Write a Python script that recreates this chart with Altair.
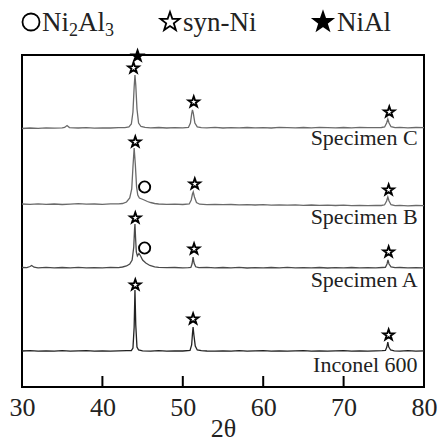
import altair as alt
import pandas as pd

# ---------------- data ----------------
specimens = ["Specimen C", "Specimen B", "Specimen A", "Inconel 600"]

c_x = [30, 31, 32, 33, 34, 35, 35.3, 35.6, 35.9, 37, 38, 39, 40, 41, 42, 42.8, 43.3, 43.6, 43.8, 43.95,
       44.05, 44.15, 44.3, 44.5, 44.8, 45.3, 46, 47, 48, 49, 50, 50.7, 50.95, 51.1, 51.2, 51.3, 51.5,
       51.8, 52.3, 53, 54, 55, 56, 57, 58, 59, 60, 61, 62, 63, 64, 65, 66, 67, 68, 69, 70, 71, 72, 73,
       74, 74.7, 75.1, 75.35, 75.5, 75.65, 75.9, 76.4, 77, 78, 79, 80]
c_y = [258.5, 259, 258.6, 259.2, 258.8, 259.1, 259.6, 261.5, 259.4, 259, 259.3, 258.8, 259.2, 259, 259.4,
       259.3, 260, 263, 275, 300, 312, 302, 278, 264, 260.5, 259.6, 259.2, 259.5, 259, 259.3, 259.1,
       259.6, 264, 273, 277, 274, 264, 260.2, 259.4, 259.2, 259.6, 259, 259.4, 259.1, 259.5, 259.2,
       259.4, 259, 259.6, 259.3, 259.1, 259.5, 259.2, 259.6, 259.3, 259.1, 259.5, 259.2, 259.6, 259.3,
       259.4, 259.5, 260, 264, 268, 264, 260.3, 259.4, 259.6, 259.2, 259.5, 259.3]

b_x = [30, 31, 32, 33, 34, 35, 36, 37, 38, 39, 40, 41, 42, 42.5, 43.0, 43.4, 43.65, 43.8, 43.95, 44.1,
       44.25, 44.4, 44.6, 44.9, 45.2, 45.6, 46, 46.5, 47, 48, 49, 50, 50.8, 51.05, 51.2, 51.3, 51.45,
       51.7, 52.1, 53, 54, 55, 56, 57, 58, 59, 60, 61, 62, 63, 64, 65, 66, 67, 68, 69, 70, 71, 72, 73,
       74, 74.7, 75.1, 75.35, 75.5, 75.65, 75.9, 76.4, 77, 78, 79, 80]
b_y = [183, 182.6, 183.1, 182.7, 183, 182.5, 182.9, 183.3, 182.8, 183, 182.6, 183.1, 183.2, 183.5,
       185, 189, 198, 220, 239, 222, 200, 192, 189, 188, 187, 185.5, 184.5, 183.5, 183, 182.6, 182.9,
       182.5, 183, 187, 193, 195, 190, 184.5, 182.8, 182.4, 182.7, 182.3, 182.5, 182.1, 182.4, 182,
       182.3, 181.9, 182.2, 181.8, 182.1, 181.7, 182, 181.6, 181.9, 181.5, 181.8, 181.4, 181.7, 181.3,
       181.6, 181.5, 182.2, 186, 190, 186, 182.3, 181.4, 181.6, 181.2, 181.5, 181.3]

a_x = [30, 30.6, 31.0, 31.2, 31.5, 32, 33, 34, 35, 36, 37, 38, 39, 40, 41, 42, 42.5, 43.0, 43.4, 43.7,
       43.9, 44.0, 44.05, 44.12, 44.22, 44.35, 44.55, 44.75, 45.0, 45.4, 45.9, 46.5, 47, 48, 49, 50,
       50.7, 51.0, 51.15, 51.28, 51.4, 51.6, 52, 53, 54, 55, 56, 57, 58, 59, 60, 61, 62, 63, 64, 65, 66,
       67, 68, 69, 70, 71, 72, 73, 74, 74.8, 75.2, 75.4, 75.52, 75.65, 75.9, 76.4, 77, 78, 79, 80]
a_y = [119.5, 119.3, 120.5, 121.5, 119.8, 119.2, 119.6, 119.1, 119.5, 119.2, 119.6, 119.1, 119.4, 119.2,
       119.6, 119.4, 120, 121, 123, 127, 140, 158, 163, 150, 135, 131, 133.5, 131, 127, 124, 121.5,
       120.2, 119.6, 119.3, 119.5, 119.1, 119.4, 119.6, 123, 130, 124, 120.2, 119.3, 119.6, 119.1,
       119.5, 119.2, 119.6, 119, 119.4, 119.1, 119.5, 119.2, 119.6, 119.1, 119.4, 119.2, 119.5, 119,
       119.4, 119.1, 119.5, 119.2, 119.4, 119.1, 119.5, 119.7, 123, 127, 123, 120.1, 119.3, 119.5,
       119.1, 119.4, 119.2]

i_x = [30, 31, 32, 33, 34, 35, 36, 37, 38, 39, 40, 41, 42, 43, 43.6, 43.8, 43.95, 44.05, 44.15, 44.3,
       44.5, 45, 46, 47, 48, 49, 50, 50.9, 51.1, 51.2, 51.28, 51.38, 51.55, 51.8, 52.3, 53, 54, 55, 56,
       57, 58, 59, 60, 61, 62, 63, 64, 65, 66, 67, 68, 69, 70, 71, 72, 73, 74, 74.8, 75.2, 75.38, 75.5,
       75.62, 75.85, 76.3, 77, 78, 79, 80]
i_y = [36, 36.3, 35.8, 36.2, 35.9, 36.3, 35.8, 36.1, 36.4, 35.9, 36.2, 35.8, 36.1, 36.3, 36.5, 39, 60,
       97, 62, 40, 37, 36.2, 35.9, 36.3, 35.8, 36.1, 36, 36.5, 42, 53, 60, 52, 41, 37, 36.3, 36, 35.8,
       36.2, 35.9, 36.3, 35.8, 36.1, 36.4, 35.9, 36.2, 35.8, 36.1, 36.3, 35.9, 36.2, 35.8, 36.1, 36.3,
       35.9, 36.2, 35.8, 36.1, 36.3, 36.6, 40, 45, 40, 37, 36.2, 35.9, 36.3, 35.9, 36.1]

line_colors = ["#6a6a6a", "#6a6a6a", "#4a4a4a", "#222222"]

# peak markers
mk_series = ["C", "C", "C", "C", "B", "B", "B", "B", "A", "A", "A", "A", "I", "I", "I"]
mk_phase = ["syn-Ni", "NiAl", "syn-Ni", "syn-Ni",
            "syn-Ni", "Ni2Al3", "syn-Ni", "syn-Ni",
            "syn-Ni", "Ni2Al3", "syn-Ni", "syn-Ni",
            "syn-Ni", "syn-Ni", "syn-Ni"]
mk_x = [43.87, 44.37, 51.36, 75.68,
        44.09, 45.25, 51.49, 75.6,
        44.09, 45.25, 51.4, 75.6,
        44.09, 51.28, 75.6]
mk_y = [319, 331, 285, 275,
        245, 200, 203, 197,
        169, 139, 138, 135,
        102, 68, 52]

phase_domain = ["Ni2Al3", "syn-Ni", "NiAl"]
phase_fill = ["white", "white", "black"]

# specimen labels
lab_y = [249, 170, 107, 22]
lab_x = 79.2

x_ticks = [30, 40, 50, 60, 70, 80]
inner_ticks = [40, 50, 60, 70]

# ---------------- tables ----------------
rows = []
for name, xs, ys in [("Specimen C", c_x, c_y), ("Specimen B", b_x, b_y),
                     ("Specimen A", a_x, a_y), ("Inconel 600", i_x, i_y)]:
    for k, (xv, yv) in enumerate(zip(xs, ys)):
        rows.append({"spec": name, "x": xv, "y": yv, "o": k})
lines_df = pd.DataFrame(rows)
mk_df = pd.DataFrame({"s": mk_series, "phase": mk_phase, "x": mk_x, "y": mk_y})
lab_df = pd.DataFrame({"label": specimens, "x": [lab_x] * 4, "y": lab_y})
tick_df = pd.DataFrame({"x": inner_ticks, "y0": [0] * 4, "y1": [11] * 4})

STAR = ("M0,-1L0.235,-0.324L0.951,-0.309L0.38,0.124L0.588,0.809L0,0.4L-0.588,0.809"
        "L-0.38,0.124L-0.951,-0.309L-0.235,-0.324Z")
shape_range = ["circle", STAR, STAR]

xscale = alt.Scale(domain=[30, 80], nice=False, zero=False)
yscale = alt.Scale(domain=[0, 332], nice=False, zero=False)
FONT = "Liberation Serif, Times New Roman, serif"
TXT = "#222"

xaxis = alt.Axis(values=x_ticks, title="2θ", labelFont=FONT, labelFontSize=26,
                 labelColor=TXT, titleFont=FONT, titleFontSize=26,
                 titleFontWeight="normal", titleColor=TXT,
                 titleY=49, titleBaseline="alphabetic",
                 labelPadding=7, ticks=False, domain=False, grid=False,
                 labelFlush=False, labelOverlap=False)

lines = alt.Chart(lines_df).mark_line(strokeWidth=1.3, interpolate="linear").encode(
    x=alt.X("x:Q", scale=xscale, axis=xaxis),
    y=alt.Y("y:Q", scale=yscale, axis=None),
    detail="spec:N",
    order="o:Q",
    color=alt.Color("spec:N", scale=alt.Scale(domain=specimens, range=line_colors), legend=None),
)

ticks = alt.Chart(tick_df).mark_rule(color="black", strokeWidth=2).encode(
    x="x:Q", y="y0:Q", y2="y1:Q"
)

markers = alt.Chart(mk_df).mark_point(filled=True, stroke="black", strokeWidth=1.9,
                                      size=125, opacity=1).encode(
    x="x:Q", y="y:Q",
    shape=alt.Shape("phase:N", scale=alt.Scale(domain=phase_domain, range=shape_range),
                    legend=None),
    fill=alt.Fill("phase:N", scale=alt.Scale(domain=phase_domain, range=phase_fill),
                  legend=None),
)

labels = alt.Chart(lab_df).mark_text(align="right", baseline="middle", font=FONT,
                                     fontSize=22, color=TXT).encode(
    x="x:Q", y="y:Q", text="label:N"
)

# ---------------- hand-drawn legend above the frame ----------------
LEG_Y = -33
leg_sym_x = [9, 148, 301]
leg_layers = []
for ph, sx, shp, fl in zip(phase_domain, leg_sym_x, shape_range, phase_fill):
    leg_layers.append(
        alt.Chart(pd.DataFrame({"phase": [ph]})).mark_point(
            shape=shp, fill=fl, filled=True, stroke="black", strokeWidth=1.8,
            size=290 if shp == "circle" else 400, opacity=1
        ).encode(x=alt.value(sx), y=alt.value(LEG_Y))
    )

def legend_text(txt, x, size, dy=0):
    return alt.Chart(pd.DataFrame({"t": [txt]})).mark_text(
        align="left", baseline="alphabetic", font=FONT, fontSize=size, color=TXT
    ).encode(x=alt.value(x), y=alt.value(LEG_Y + 9 + dy), text="t:N")

leg_layers += [
    legend_text("Ni", 20, 27), legend_text("2", 47, 18, 5),
    legend_text("Al", 56, 27), legend_text("3", 83, 18, 5),
    legend_text("syn-Ni", 161, 27),
    legend_text("NiAl", 315, 27),
]

chart = alt.layer(lines, ticks, markers, labels, *leg_layers).properties(
    width=402, height=332,
    autosize=alt.AutoSizeParams(type="none"),
    padding={"left": 22, "top": 55, "right": 17, "bottom": 59},
).configure_view(
    stroke="black", strokeWidth=2
)

chart.save("out.html", embed_options={"renderer": "svg", "actions": False})
